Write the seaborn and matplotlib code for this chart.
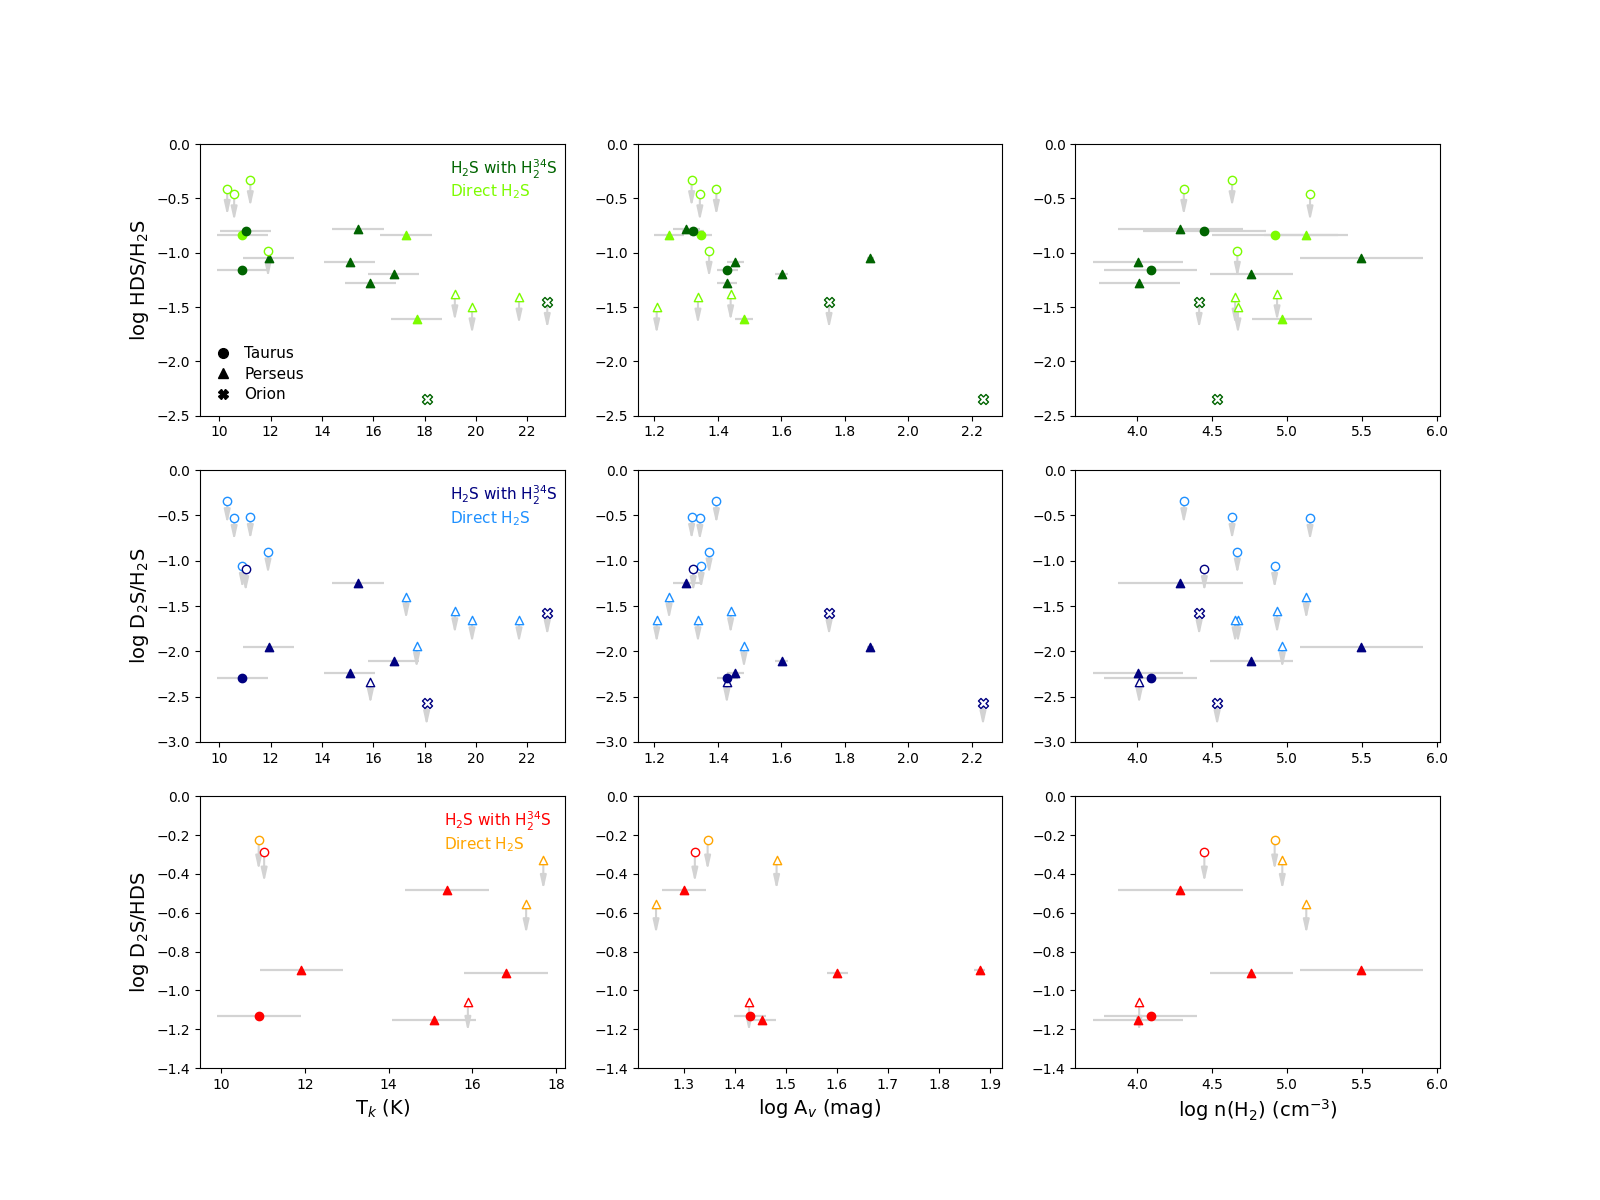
import numpy as np
import pandas as pd
import matplotlib
matplotlib.use("Agg")
import matplotlib.pyplot as plt
import seaborn as sns
from matplotlib.lines import Line2D

nan = np.nan

# ---- data (one entry per source) ----
region = ["Taurus", "Taurus", "Taurus", "Taurus", "Taurus", "Taurus", "Perseus", "Taurus",
          "Perseus", "Perseus", "Perseus", "Perseus", "Perseus", "Perseus", "Perseus",
          "Perseus", "Perseus", "Orion", "Orion"]
method = ["direct", "direct", "direct", "h34s", "direct", "direct", "h34s", "h34s",
          "h34s", "direct", "h34s", "h34s", "h34s", "direct", "direct",
          "direct", "direct", "h34s", "h34s"]
Tk = [10.31, 10.58, 11.21, 11.03, 10.90, 11.90, 11.92, 10.90, 15.40, 17.28,
      15.08, 16.80, 15.89, 17.69, 19.18, 19.85, 21.68, 22.78, 18.08]
Av = [1.395, 1.343, 1.317, 1.322, 1.347, 1.372, 1.880, 1.430, 1.300, 1.246,
      1.454, 1.601, 1.428, 1.482, 1.440, 1.207, 1.337, 1.750, 2.235]
nH2 = [4.311, 5.153, 4.633, 4.448, 4.917, 4.668, 5.495, 4.090, 4.288, 5.128,
       4.007, 4.761, 4.013, 4.968, 4.933, 4.672, 4.653, 4.413, 4.533]
Tk_err = [0, 0, 0, 1.0, 1.0, 0, 1.0, 1.0, 1.0, 1.0, 1.0, 1.0, 1.0, 1.0, 0, 0, 0, 0, 0]
Av_err = [0, 0, 0, 0.035, 0.035, 0, 0.011, 0.032, 0.043, 0.048, 0.027, 0.021, 0.032,
          0.027, 0, 0, 0, 0, 0]
nH2_err = [0, 0, 0, 0.41, 0.42, 0, 0.41, 0.31, 0.415, 0.28, 0.30, 0.278, 0.27, 0.20,
           0, 0, 0, 0, 0]

hds_h2s = [-0.41, -0.46, -0.33, -0.80, -0.84, -0.98, -1.05, -1.16, -0.78, -0.84,
           -1.09, -1.20, -1.28, -1.61, -1.38, -1.50, -1.41, -1.45, -2.35]
hds_h2s_ul = [1, 1, 1, 0, 0, 1, 0, 0, 0, 0, 0, 0, 0, 0, 1, 1, 1, 1, 1]
d2s_h2s = [-0.345, -0.53, -0.52, -1.095, -1.06, -0.90, -1.95, -2.29, -1.25, -1.40,
           -2.24, -2.11, -2.335, -1.94, -1.56, -1.66, -1.66, -1.58, -2.575]
d2s_h2s_ul = [1, 1, 1, 1, 1, 1, 0, 0, 0, 1, 0, 0, 1, 1, 1, 1, 1, 1, 1]
d2s_hds = [nan, nan, nan, -0.289, -0.227, nan, -0.894, -1.131, -0.481, -0.555,
           -1.152, -0.913, -1.058, -0.327, nan, nan, nan, nan, nan]
d2s_hds_ul = [0, 0, 0, 1, 1, 0, 0, 0, 0, 1, 0, 0, 1, 1, 0, 0, 0, 0, 0]

df = pd.DataFrame(dict(region=region, method=method, Tk=Tk, Av=Av, nH2=nH2,
                       Tk_err=Tk_err, Av_err=Av_err, nH2_err=nH2_err,
                       hds_h2s=hds_h2s, hds_h2s_ul=hds_h2s_ul,
                       d2s_h2s=d2s_h2s, d2s_h2s_ul=d2s_h2s_ul,
                       d2s_hds=d2s_hds, d2s_hds_ul=d2s_hds_ul))

rows = [
    dict(y="hds_h2s", label="log HDS/H$_2$S", colors={"h34s": "darkgreen", "direct": "lawngreen"},
         ylim=(-2.5, 0.0), arrow=0.25, tx=0.685),
    dict(y="d2s_h2s", label="log D$_2$S/H$_2$S", colors={"h34s": "navy", "direct": "dodgerblue"},
         ylim=(-3.0, 0.0), arrow=0.25, tx=0.685),
    dict(y="d2s_hds", label="log D$_2$S/HDS", colors={"h34s": "red", "direct": "orange"},
         ylim=(-1.4, 0.0), arrow=0.155, tx=0.669),
]
cols = [
    dict(x="Tk", err="Tk_err", label="T$_k$ (K)", xlims=[(9.25, 23.46), (9.25, 23.46), (9.5, 18.2)]),
    dict(x="Av", err="Av_err", label="log A$_v$ (mag)", xlims=[(1.147, 2.296), (1.147, 2.296), (1.210, 1.924)]),
    dict(x="nH2", err="nH2_err", label="log n(H$_2$) (cm$^{-3}$)", xlims=[(3.587, 6.02)] * 3),
]
markers = {"Taurus": "o", "Perseus": "^", "Orion": "X"}
msize = {"Taurus": 36, "Perseus": 36, "Orion": 52}

fig, axes = plt.subplots(3, 3, figsize=(16, 12), dpi=100)

for r, row in enumerate(rows):
    yk = row["y"]
    ulk = yk + "_ul"
    sub_all = df[df[yk].notna()]
    for c, col in enumerate(cols):
        ax = axes[r, c]
        xk = col["x"]
        det = sub_all[sub_all[ulk] == 0]
        ul = sub_all[sub_all[ulk] == 1]
        # horizontal error bars for detections
        ax.errorbar(det[xk], det[yk], xerr=det[col["err"]], fmt="none",
                    ecolor="lightgray", elinewidth=1.6, capsize=0, zorder=1)
        # downward arrows for upper limits
        for xv, yv in zip(ul[xk], ul[yk]):
            ax.annotate("", xy=(xv, yv - row["arrow"]), xytext=(xv, yv),
                        arrowprops=dict(arrowstyle="-|>,head_length=0.8,head_width=0.18",
                                        color="lightgray", lw=1.5, shrinkA=0, shrinkB=0),
                        zorder=1)
        # markers
        for (reg, meth, isul), g in sub_all.groupby(["region", "method", ulk]):
            colr = row["colors"][meth]
            sns.scatterplot(data=g, x=xk, y=yk, ax=ax, marker=markers[reg], s=msize[reg],
                            color=colr, edgecolor=colr, linewidth=1.0, zorder=3, legend=False)
            if isul == 1:
                ax.collections[-1].set_facecolor("white")
        ax.set_xlim(*col["xlims"][r])
        ax.set_ylim(*row["ylim"])
        ax.set_xlabel("")
        ax.set_ylabel("")
        if c == 0:
            ax.set_ylabel(row["label"], fontsize=14)
            ax.text(row["tx"], 0.908, "H$_2$S with H$_2^{34}$S", transform=ax.transAxes,
                    color=row["colors"]["h34s"], fontsize=11, va="center", ha="left")
            ax.text(row["tx"], 0.823, "Direct H$_2$S", transform=ax.transAxes,
                    color=row["colors"]["direct"], fontsize=11, va="center", ha="left")
        if r == 2:
            ax.set_xlabel(col["label"], fontsize=14)

handles = [Line2D([], [], linestyle="none", marker=markers[k], color="black",
                  markersize=7, label=k) for k in ["Taurus", "Perseus", "Orion"]]
axes[0, 0].legend(handles=handles, loc="lower left", frameon=False, fontsize=11,
                  handlelength=1.2, handletextpad=0.8, labelspacing=0.35)

fig.savefig("out.png", dpi=100)
